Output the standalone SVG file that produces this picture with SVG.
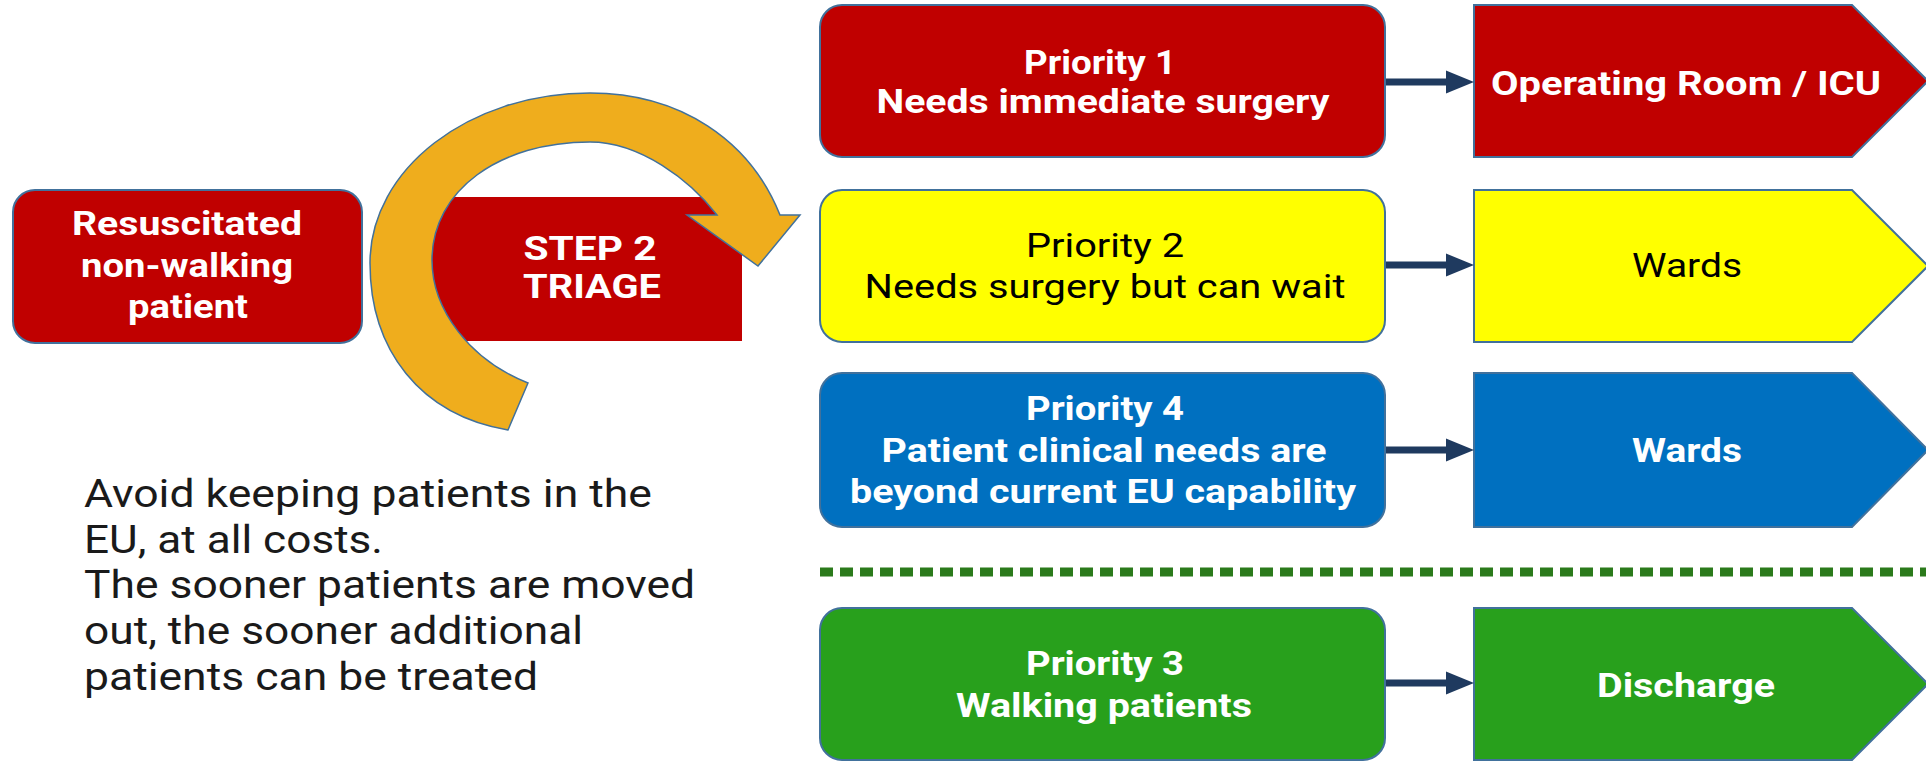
<svg xmlns="http://www.w3.org/2000/svg" width="1926" height="761" viewBox="0 0 1926 761">
<style>
.box{stroke:#41719C;stroke-width:2}
.red{fill:#C00000}
.yel{fill:#FFFF00}
.blu{fill:#0070C0}
.grn{fill:#28A01C}
.t{font-family:Roboto,"Liberation Sans",sans-serif;font-size:33px;font-weight:bold;fill:#FFFFFF;text-anchor:middle}
.tk{font-family:Roboto,"Liberation Sans",sans-serif;font-size:33px;font-weight:normal;fill:#000000;text-anchor:middle}
.note{font-family:Roboto,"Liberation Sans",sans-serif;font-size:38px;fill:#1A1A1A}
.conn{stroke:#1F3A5F;stroke-width:7;fill:none}
</style>
<defs>
<marker id="ah" markerUnits="userSpaceOnUse" markerWidth="28" markerHeight="24" refX="4" refY="12" orient="auto">
<path d="M0,0.5 L28,12 L0,23.5 z" fill="#1F3A5F"/>
</marker>
</defs>
<rect width="1926" height="761" fill="#FFFFFF"/>

<g id="resuscitated">
<rect class="box red" x="13" y="190" width="349" height="153" rx="22"/>
<text class="t" font-size="30" x="187" y="235" textLength="230" lengthAdjust="spacingAndGlyphs">Resuscitated</text>
<text class="t" font-size="30" x="187" y="277" textLength="212" lengthAdjust="spacingAndGlyphs">non-walking</text>
<text class="t" font-size="30" x="188" y="318" textLength="120" lengthAdjust="spacingAndGlyphs">patient</text>
</g>

<g id="step2">
<rect class="red" x="420" y="197" width="322" height="144"/>
<text class="t" x="590" y="260" textLength="133" lengthAdjust="spacingAndGlyphs">STEP 2</text>
<text class="t" x="592" y="298" textLength="138" lengthAdjust="spacingAndGlyphs">TRIAGE</text>
</g>

<g id="cycle-arrow">
<path d="M508,430 C420,415 370,350 370,263 C370,169 469,93 590,93 C680,93 750,140 780,215 L800,215 L758,266 L687,215 L717,215 C690,180 640,142 590,142 C500,142 432,190 432,260 C432,310 470,360 528,383 Z" fill="#EFAD1D" stroke="#41719C" stroke-width="1.5" stroke-linejoin="miter"/>
</g>

<g id="note">
<text class="note" x="84" y="507" textLength="568" lengthAdjust="spacingAndGlyphs">Avoid keeping patients in the</text>
<text class="note" x="84" y="553" textLength="299" lengthAdjust="spacingAndGlyphs">EU, at all costs.</text>
<text class="note" x="84" y="598" textLength="611" lengthAdjust="spacingAndGlyphs">The sooner patients are moved</text>
<text class="note" x="84" y="644" textLength="499" lengthAdjust="spacingAndGlyphs">out, the sooner additional</text>
<text class="note" x="84" y="690" textLength="454" lengthAdjust="spacingAndGlyphs">patients can be treated</text>
</g>

<g id="priority1">
<rect class="box red" x="820" y="5" width="565" height="152" rx="22"/>
<text class="t" x="1100" y="74" textLength="152" lengthAdjust="spacingAndGlyphs">Priority 1</text>
<text class="t" x="1103" y="113" textLength="453" lengthAdjust="spacingAndGlyphs">Needs immediate surgery</text>
</g>
<g id="dest1">
<path class="box red" d="M1474,5 L1852,5 L1928,81 L1852,157 L1474,157 Z"/>
<text class="t" x="1686" y="95" textLength="390" lengthAdjust="spacingAndGlyphs">Operating Room / ICU</text>
</g>

<g id="priority2">
<rect class="box yel" x="820" y="190" width="565" height="152" rx="22"/>
<text class="tk" x="1105" y="257" textLength="158" lengthAdjust="spacingAndGlyphs">Priority 2</text>
<text class="tk" x="1105" y="298" textLength="481" lengthAdjust="spacingAndGlyphs">Needs surgery but can wait</text>
</g>
<g id="dest2">
<path class="box yel" d="M1474,190 L1852,190 L1928,266 L1852,342 L1474,342 Z"/>
<text class="tk" x="1687" y="277" textLength="110" lengthAdjust="spacingAndGlyphs">Wards</text>
</g>

<g id="priority4">
<rect class="box blu" x="820" y="373" width="565" height="154" rx="22"/>
<text class="t" x="1105" y="420" textLength="158" lengthAdjust="spacingAndGlyphs">Priority 4</text>
<text class="t" x="1104" y="462" textLength="445" lengthAdjust="spacingAndGlyphs">Patient clinical needs are</text>
<text class="t" x="1103" y="503" textLength="506" lengthAdjust="spacingAndGlyphs">beyond current EU capability</text>
</g>
<g id="dest4">
<path class="box blu" d="M1474,373 L1852,373 L1928,450 L1852,527 L1474,527 Z"/>
<text class="t" x="1687" y="462" textLength="110" lengthAdjust="spacingAndGlyphs">Wards</text>
</g>

<g id="separator">
<line x1="820" y1="572" x2="1926" y2="572" stroke="#2B7A1B" stroke-width="9" stroke-dasharray="13 7"/>
</g>

<g id="priority3">
<rect class="box grn" x="820" y="608" width="565" height="152" rx="22"/>
<text class="t" x="1105" y="675" textLength="158" lengthAdjust="spacingAndGlyphs">Priority 3</text>
<text class="t" x="1104" y="717" textLength="296" lengthAdjust="spacingAndGlyphs">Walking patients</text>
</g>
<g id="dest3">
<path class="box grn" d="M1474,608 L1852,608 L1928,684 L1852,760 L1474,760 Z"/>
<text class="t" x="1686" y="697" textLength="178" lengthAdjust="spacingAndGlyphs">Discharge</text>
</g>

<g id="connectors">
<line class="conn" x1="1386" y1="82" x2="1450" y2="82" marker-end="url(#ah)"/>
<line class="conn" x1="1386" y1="265" x2="1450" y2="265" marker-end="url(#ah)"/>
<line class="conn" x1="1386" y1="450" x2="1450" y2="450" marker-end="url(#ah)"/>
<line class="conn" x1="1386" y1="683" x2="1450" y2="683" marker-end="url(#ah)"/>
</g>
</svg>
